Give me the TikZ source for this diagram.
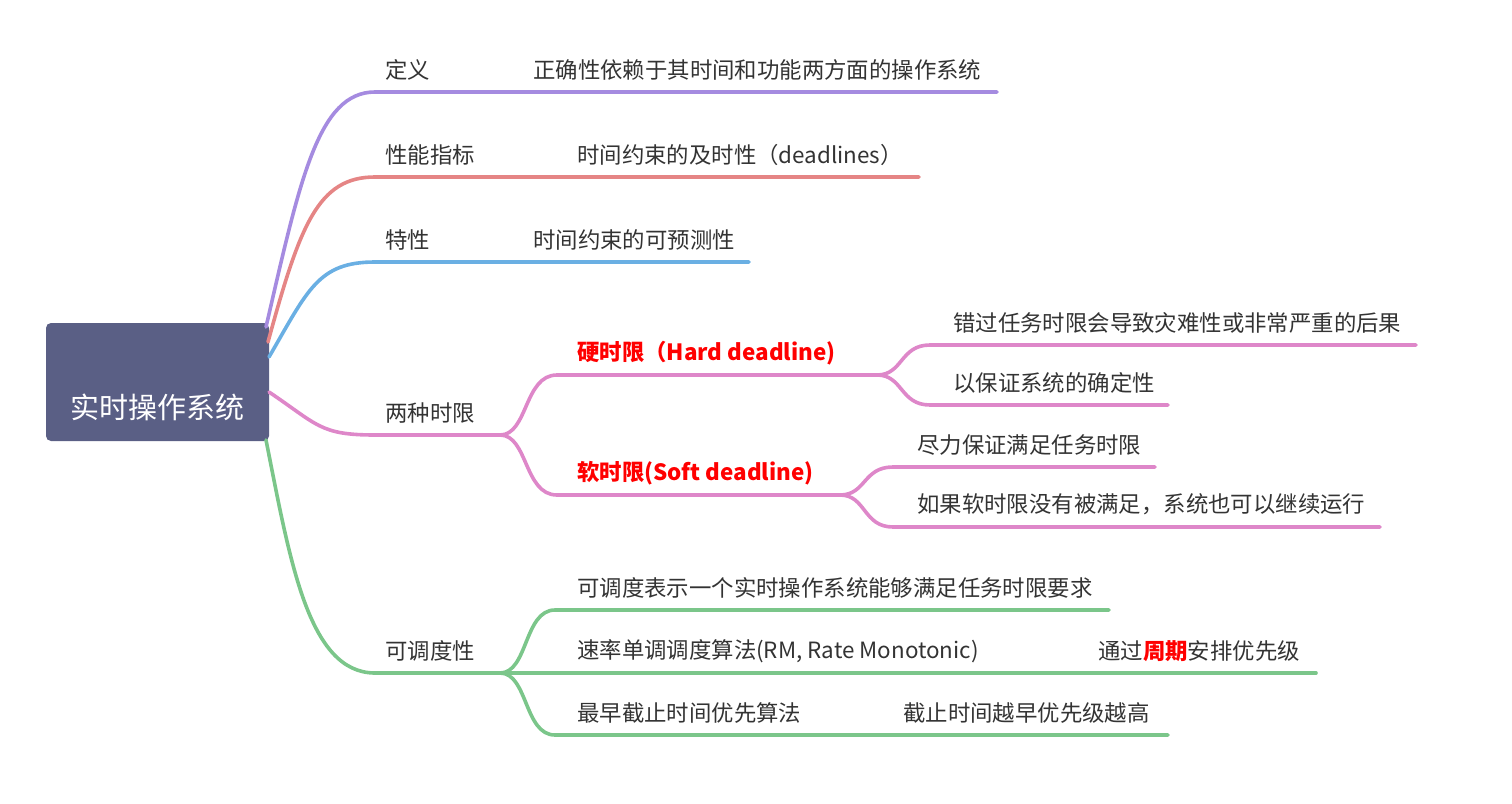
\documentclass[tikz,border=0pt]{standalone}
\usepackage{fontspec}
\setmainfont{Noto Sans CJK SC}
\usetikzlibrary{positioning}

\definecolor{raizcolor}{HTML}{5A5F85}
\definecolor{texto}{HTML}{333333}
\definecolor{morado}{HTML}{A58BE0}
\definecolor{salmon}{HTML}{E58585}
\definecolor{azul}{HTML}{6AAFE3}
\definecolor{rosa}{HTML}{DE87C9}
\definecolor{verde}{HTML}{7BC68A}

\begin{document}
\begin{tikzpicture}[x=1pt,y=-1pt]
        \tikzstyle{tema} = [anchor=west, inner sep=0pt, text=texto, font=\fontsize{22.4}{26}\selectfont]
        \tikzstyle{alerta} = [tema, text=red, font=\fontsize{22.4}{26}\selectfont\bfseries]
        \tikzstyle{rama} = [line width=3.6pt, line cap=round]
        \tikzstyle{raizbox} = [fill=raizcolor, rounded corners=5pt, minimum width=223pt, minimum height=118pt, inner sep=0pt]

        \useasboundingbox (0,0) rectangle (1512,803);

        % Nodo raiz
        \node[raizbox] (raiz) at (157.5,382) {};
        \node[text=white, font=\fontsize{29}{34}\selectfont] (raiztxt) at (157,407) {实时操作系统};
        \coordinate (r1) at (266,327);
        \coordinate (r2) at (268,342);
        \coordinate (r3) at (269,357);
        \coordinate (r4) at (269,392);
        \coordinate (r5) at (266,440);

        % Primer nivel
        \node[tema] (def) at (385,70) {定义};
        \node[tema] (ind) at (385,155) {性能指标};
        \node[tema] (car) at (385,240) {特性};
        \node[tema] (dos) at (385,413) {两种时限};
        \node[tema] (cal) at (385,651) {可调度性};

        % Segundo nivel
        \node[tema] (defval) at (533,70) {正确性依赖于其时间和功能两方面的操作系统};
        \node[tema] (indval) at (577,155) {时间约束的及时性（deadlines）};
        \node[tema] (carval) at (533,240) {时间约束的可预测性};
        \node[alerta] (duro) at (577,353) {硬时限（Hard deadline)};
        \node[alerta] (suave) at (577,473) {软时限(Soft deadline)};
        \node[tema] (cal1) at (577,588) {可调度表示一个实时操作系统能够满足任务时限要求};
        \node[tema] (cal2) at (577,651) {速率单调调度算法(RM, Rate Monotonic)};
        \node[tema] (cal3) at (577,713) {最早截止时间优先算法};

        % Tercer nivel
        \node[tema] (duro1) at (953,323) {错过任务时限会导致灾难性或非常严重的后果};
        \node[tema] (duro2) at (953,383) {以保证系统的确定性};
        \node[tema] (suave1) at (917,445) {尽力保证满足任务时限};
        \node[tema] (suave2) at (917,504) {如果软时限没有被满足，系统也可以继续运行};
        \node[tema] (rm) at (1098,651) {通过\textcolor{red}{\bfseries 周期}安排优先级};
        \node[tema] (edf) at (903,713) {截止时间越早优先级越高};

        % Puntos de las lineas
        \coordinate (def-a) at (375,92);   \coordinate (def-b) at (997,92);
        \coordinate (ind-a) at (375,177);  \coordinate (ind-b) at (919,177);
        \coordinate (car-a) at (375,262);  \coordinate (car-b) at (749,262);
        \coordinate (dos-a) at (375,435);  \coordinate (dos-j) at (500,435);
        \coordinate (duro-a) at (557,375); \coordinate (duro-j) at (877,375);
        \coordinate (suave-a) at (557,495); \coordinate (suave-j) at (840,495);
        \coordinate (duro1-a) at (930,345); \coordinate (duro1-b) at (1416,345);
        \coordinate (duro2-a) at (930,405); \coordinate (duro2-b) at (1168,405);
        \coordinate (suave1-a) at (893,467); \coordinate (suave1-b) at (1155,467);
        \coordinate (suave2-a) at (893,527); \coordinate (suave2-b) at (1380,527);
        \coordinate (cal-a) at (375,673);  \coordinate (cal-j) at (500,673);
        \coordinate (cal1-a) at (555,610); \coordinate (cal1-b) at (1109,610);
        \coordinate (cal2-b) at (1008,673); \coordinate (rm-b) at (1316,673);
        \coordinate (cal3-a) at (555,735); \coordinate (cal3-b) at (812,735);
        \coordinate (edf-b) at (1168,735);

        % Ramas desde la raiz
        \draw[rama, morado] (r1) .. controls (300,180) and (318,92) .. (def-a) -- (def-b);
        \draw[rama, salmon] (r2) .. controls (300,225) and (318,177) .. (ind-a) -- (ind-b);
        \draw[rama, azul] (r3) .. controls (308,290) and (318,262) .. (car-a) -- (car-b);
        \draw[rama, rosa] (r4) .. controls (318,425) and (320,435) .. (dos-a) -- (dos-j);
        \draw[rama, verde] (r5) .. controls (290,560) and (308,673) .. (cal-a) -- (cal-j);

        % Ramas de los dos tipos de limite
        \draw[rama, rosa] (dos-j) .. controls (528,435) and (524,375) .. (duro-a) -- (duro-j);
        \draw[rama, rosa] (dos-j) .. controls (528,435) and (524,495) .. (suave-a) -- (suave-j);
        \draw[rama, rosa] (duro-j) .. controls (903,375) and (900,345) .. (duro1-a) -- (duro1-b);
        \draw[rama, rosa] (duro-j) .. controls (903,375) and (900,405) .. (duro2-a) -- (duro2-b);
        \draw[rama, rosa] (suave-j) .. controls (866,495) and (863,467) .. (suave1-a) -- (suave1-b);
        \draw[rama, rosa] (suave-j) .. controls (866,495) and (863,527) .. (suave2-a) -- (suave2-b);

        % Ramas de la planificabilidad
        \draw[rama, verde] (cal-j) .. controls (528,673) and (524,610) .. (cal1-a) -- (cal1-b);
        \draw[rama, verde] (cal-j) -- (cal2-b) -- (rm-b);
        \draw[rama, verde] (cal-j) .. controls (528,673) and (524,735) .. (cal3-a) -- (cal3-b) -- (edf-b);
    \end{tikzpicture}
\end{document}
